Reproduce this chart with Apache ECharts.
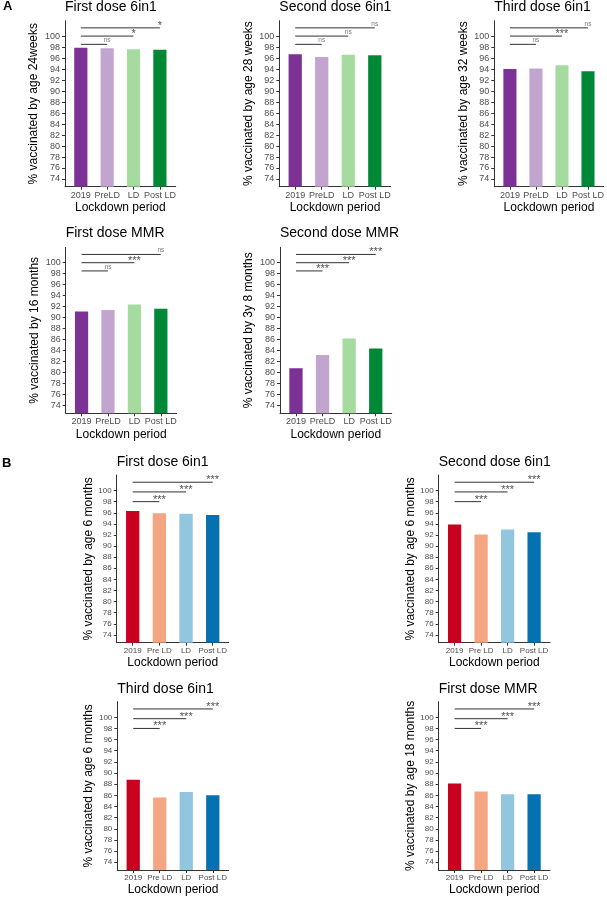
<!DOCTYPE html>
<html>
<head>
<meta charset="utf-8">
<script src="https://cdn.jsdelivr.net/npm/echarts@6/dist/echarts.min.js"></script>
<style>
  html, body { margin: 0; padding: 0; background: #fff; }
  #chart { width: 607px; height: 899px; }
</style>
</head>
<body>
<div id="chart"></div>
<script>
const periodsA = ['2019', 'PreLD', 'LD', 'Post LD']
const periodsB = ['2019', 'Pre LD', 'LD', 'Post LD']
const colorsA = ['#7b3294', '#c2a5cf', '#a6dba0', '#008837']
const colorsB = ['#ca0020', '#f4a582', '#92c5de', '#0571b0']
const yTicks = [74, 76, 78, 80, 82, 84, 86, 88, 90, 92, 94, 96, 98, 100]

// A: by age in weeks / months
const firstDose6in1A = [97.9, 97.8, 97.6, 97.5]
const secondDose6in1A = [96.7, 96.2, 96.6, 96.5]
const thirdDose6in1A = [94.0, 94.1, 94.7, 93.6]
const firstDoseMMRA = [91.1, 91.4, 92.4, 91.6]
const secondDoseMMRA = [80.8, 83.2, 86.2, 84.4]

// B: by age 6 / 18 months
const firstDose6in1B = [96.3, 95.9, 95.8, 95.6]
const secondDose6in1B = [93.9, 92.1, 93.0, 92.5]
const thirdDose6in1B = [88.8, 85.6, 86.6, 86.0]
const firstDoseMMRB = [88.1, 86.7, 86.2, 86.2]

// significance vs 2019 (PreLD, LD, Post LD)
const sigFirst6in1A = ['ns', '*', '*']
const sigSecond6in1A = ['ns', 'ns', 'ns']
const sigThird6in1A = ['ns', '***', 'ns']
const sigFirstMMRA = ['ns', '***', 'ns']
const sigSecondMMRA = ['***', '***', '***']
const sigAllB = ['***', '***', '***']
const sigLevelsA = [98.5, 100, 101.5]
const sigLevelsB = [98, 99.75, 101.5]

const FONT = '"Liberation Sans", Arial, sans-serif'

const panels = [
  { title: 'First dose 6in1', yName: '% vaccinated by age 24weeks', values: firstDose6in1A, sig: sigFirst6in1A, part: 'A', box: [65, 20.7, 110.7, 166], titleTop: 0 },
  { title: 'Second dose 6in1', yName: '% vaccinated by age 28 weeks', values: secondDose6in1A, sig: sigSecond6in1A, part: 'A', box: [279.3, 20.7, 111.4, 166], titleTop: 0 },
  { title: 'Third dose 6in1', yName: '% vaccinated by age 32 weeks', values: thirdDose6in1A, sig: sigThird6in1A, part: 'A', box: [494.3, 20.7, 110, 166], titleTop: 0 },
  { title: 'First dose MMR', yName: '% vaccinated by 16 months', values: firstDoseMMRA, sig: sigFirstMMRA, part: 'A', box: [65.7, 247.3, 111, 166], titleTop: 226.5 },
  { title: 'Second dose MMR', yName: '% vaccinated by 3y 8 months', values: secondDoseMMRA, sig: sigSecondMMRA, part: 'A', box: [280, 247.3, 111.7, 166], titleTop: 226.5 },
  { title: 'First dose 6in1', yName: '% vaccinated by age 6 months', values: firstDose6in1B, sig: sigAllB, part: 'B', box: [116.7, 475, 112, 167.7], titleTop: 455 },
  { title: 'Second dose 6in1', yName: '% vaccinated by age 6 months', values: secondDose6in1B, sig: sigAllB, part: 'B', box: [438.7, 475, 111.3, 167.7], titleTop: 455 },
  { title: 'Third dose 6in1', yName: '% vaccinated by age 6 months', values: thirdDose6in1B, sig: sigAllB, part: 'B', box: [117.3, 701.7, 111.4, 168.3], titleTop: 682 },
  { title: 'First dose MMR', yName: '% vaccinated by age 18 months', values: firstDoseMMRB, sig: sigAllB, part: 'B', box: [438.7, 701.7, 111.3, 168.3], titleTop: 682 }
]

const chart = echarts.init(document.getElementById('chart'))

const option = {
  animation: false,
  textStyle: { fontFamily: FONT },
  title: [
    { text: 'A', left: 3, top: 0, padding: 0, textStyle: { fontFamily: FONT, fontSize: 13, fontWeight: 'bold', color: '#000' } },
    { text: 'B', left: 2, top: 456.5, padding: 0, textStyle: { fontFamily: FONT, fontSize: 13, fontWeight: 'bold', color: '#000' } }
  ],
  grid: [],
  xAxis: [],
  yAxis: [],
  series: []
}

panels.forEach((p, i) => {
  const [left, top, width, height] = p.box
  const isA = p.part === 'A'
  const cats = isA ? periodsA : periodsB
  const colors = isA ? colorsA : colorsB
  const levels = isA ? sigLevelsA : sigLevelsB
  const tickFont = isA ? 9 : 8

  option.title.push({
    text: p.title,
    left: left,
    top: p.titleTop,
    padding: 0,
    textStyle: { fontFamily: FONT, fontSize: 14, fontWeight: 'normal', color: '#000' }
  })
  option.grid.push({ left, top, width, height, containLabel: false })

  option.xAxis.push({
    gridIndex: i,
    type: 'value',
    min: -0.6,
    max: 3.6,
    axisLine: { show: true, onZero: false, lineStyle: { color: '#333', width: 1 } },
    axisTick: { show: true, customValues: [0, 1, 2, 3], length: 3, lineStyle: { color: '#333' } },
    axisLabel: {
      customValues: [0, 1, 2, 3],
      formatter: v => cats[Math.round(v)],
      color: '#4d4d4d',
      fontSize: tickFont,
      margin: 4
    },
    splitLine: { show: false },
    name: 'Lockdown period',
    nameLocation: 'middle',
    nameGap: isA ? 15 : 14,
    nameTextStyle: { color: '#000', fontSize: 12, fontFamily: FONT }
  })

  option.yAxis.push({
    gridIndex: i,
    type: 'value',
    min: 72.6,
    max: 102.8,
    axisLine: { show: true, onZero: false, lineStyle: { color: '#333', width: 1 } },
    axisTick: { show: true, customValues: yTicks, length: 3, lineStyle: { color: '#333' } },
    axisLabel: { customValues: yTicks, color: '#4d4d4d', fontSize: tickFont, margin: 5 },
    splitLine: { show: false },
    name: p.yName,
    nameLocation: 'middle',
    nameGap: isA ? 25 : 21,
    nameTextStyle: { color: '#000', fontSize: 12, fontFamily: FONT }
  })

  option.series.push({
    type: 'bar',
    xAxisIndex: i,
    yAxisIndex: i,
    silent: true,
    barWidth: 0.5 * width / 4.2,
    data: p.values.map((v, j) => ({ value: [j, v], itemStyle: { color: colors[j] } }))
  })

  // brackets from 2019 to each later period
  levels.forEach((lv, k) => {
    option.series.push({
      type: 'line',
      xAxisIndex: i,
      yAxisIndex: i,
      silent: true,
      symbol: 'none',
      lineStyle: { color: '#333', width: 1 },
      data: [[0, lv], [k + 1, lv]]
    })
  })

  option.series.push({
    type: 'scatter',
    xAxisIndex: i,
    yAxisIndex: i,
    silent: true,
    symbolSize: 1,
    itemStyle: { color: 'rgba(0,0,0,0)' },
    data: p.sig.map((s, k) => ({
      value: [k + 1, levels[k]],
      label: {
        show: true,
        position: 'top',
        formatter: s,
        distance: s === 'ns' ? 0 : -4,
        fontSize: s === 'ns' ? 6.5 : 11,
        color: s === 'ns' ? '#555' : '#222',
        fontFamily: FONT
      }
    }))
  })
})

chart.setOption(option)
</script>
</body>
</html>
